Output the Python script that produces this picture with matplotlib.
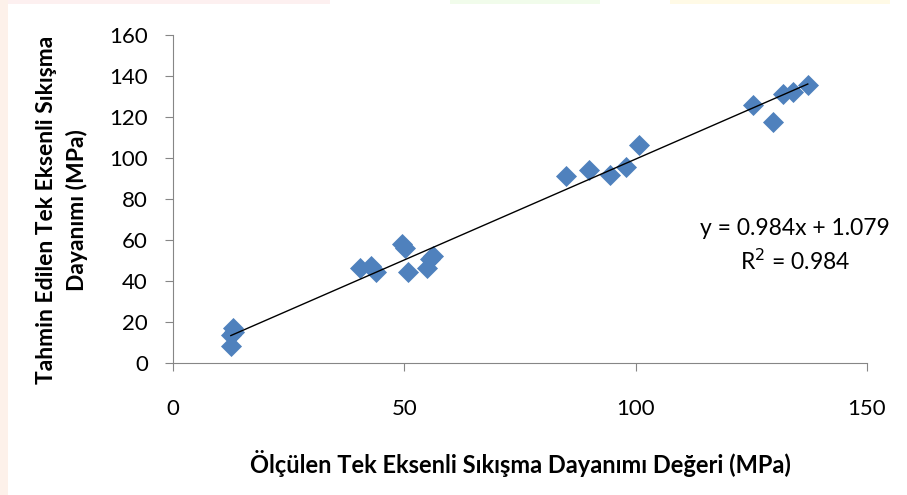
import numpy as np
import matplotlib
matplotlib.use('Agg')
import matplotlib.pyplot as plt
import matplotlib.ticker as ticker
from matplotlib.patches import Rectangle

measured = [12.5, 13.0, 12.6, 13.2, 40.5, 42.7, 43.8, 49.6, 50.2, 50.9, 54.8, 55.5,
            56.2, 85.0, 90.0, 94.5, 98.0, 100.8, 125.3, 129.6, 131.8, 134.0, 137.2]
predicted = [13.5, 17.0, 8.5, 15.0, 46.5, 47.5, 44.5, 58.0, 56.0, 44.5, 46.5, 50.5,
             52.0, 91.0, 94.0, 91.5, 95.5, 106.5, 126.0, 117.5, 131.0, 132.0, 135.5]
slope = 0.984
intercept = 1.079
r2 = 0.984

plt.rcParams['font.family'] = ['Lato', 'DejaVu Sans']

fig = plt.figure(figsize=(9.07, 4.95), dpi=100)

# faint coloured edges left over from the page behind the chart
W, H = 907.0, 495.0
for x0, x1, c in [(0, 330, '#FDF0F0'), (450, 600, '#F1FCEB'), (670, 890, '#FFFAE6')]:
    fig.patches.append(Rectangle((x0 / W, 1 - 4 / H), (x1 - x0) / W, 4 / H,
                                 transform=fig.transFigure, color=c, lw=0, zorder=0))
fig.patches.append(Rectangle((0, 0), 8 / W, 1, transform=fig.transFigure,
                             color='#FDF1EA', lw=0, zorder=0))

ax = fig.add_axes([173 / W, 1 - 363 / H, (867 - 173) / W, (363 - 35) / H])
ax.patch.set_alpha(0)

ax.scatter(measured, predicted, marker='D', s=115, color='#4F81BD', linewidths=0, zorder=2)

xf = np.array([min(measured), max(measured)])
ax.plot(xf, slope * xf + intercept, color='black', linewidth=1, zorder=3)

ax.set_xlim(0, 150)
ax.set_ylim(0, 160)
ax.xaxis.set_major_locator(ticker.MultipleLocator(50))
ax.yaxis.set_major_locator(ticker.MultipleLocator(20))
for s in ['top', 'right']:
    ax.spines[s].set_visible(False)
for s in ['left', 'bottom']:
    ax.spines[s].set_color('#868686')
ax.tick_params(colors='#868686', labelcolor='black', labelsize=16, length=6, direction='out')
ax.tick_params(axis='y', pad=12)
ax.tick_params(axis='x', pad=20)

ax.set_xlabel("Ölçülen Tek Eksenli Sıkışma Dayanımı Değeri (MPa)", fontsize=17,
              fontweight='bold', labelpad=22)
ax.set_ylabel("Tahmin Edilen Tek Eksenli Sıkışma\nDayanımı (MPa)", fontsize=16.5,
              fontweight='bold', linespacing=1.5)
ax.yaxis.set_label_coords(-0.122, 0.466)

ax.text(134.5, 65.5, "y = %.3fx + %.3f" % (slope, intercept), ha='center', va='center',
        fontsize=16.5, clip_on=False)
ax.text(134.5, 49.5, "R$^2$ = %.3f" % r2, ha='center', va='center', fontsize=16.5, clip_on=False)

fig.savefig('out.png', dpi=100)
